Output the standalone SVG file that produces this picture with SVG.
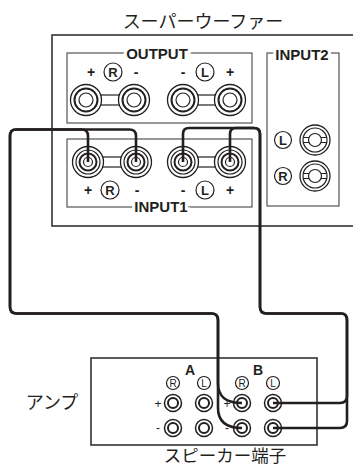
<svg xmlns="http://www.w3.org/2000/svg" width="353" height="466" viewBox="0 0 353 466">
<style>
.box{fill:none;stroke:#333;stroke-width:1.6}
.sub{fill:none;stroke:#444;stroke-width:1.1}
.lbl{font-family:"Liberation Sans",Arial,sans-serif;font-weight:bold;font-size:15px;fill:#231f20;text-anchor:middle;paint-order:stroke;stroke:#fff;stroke-width:6px}
.jp{font-family:"Noto Sans CJK JP",sans-serif;font-size:18px;fill:#231f20;text-anchor:middle}
.pm{font-family:"Liberation Sans",Arial,sans-serif;font-weight:bold;font-size:14px;fill:#231f20;text-anchor:middle}
.pms{font-family:"Liberation Sans",Arial,sans-serif;font-size:12px;fill:#231f20;text-anchor:middle}
.cl{font-family:"Liberation Sans",Arial,sans-serif;font-weight:bold;font-size:13px;fill:#231f20;text-anchor:middle}
.cls{font-family:"Liberation Sans",Arial,sans-serif;font-size:10px;fill:#231f20;text-anchor:middle}
.c{fill:#fff;stroke:#231f20;stroke-width:1.3}
.ct{fill:none;stroke:#231f20;stroke-width:2}
.t{fill:none;stroke:#231f20;stroke-width:1.2}
.wire{fill:none;stroke:#231f20;stroke-width:2.6;stroke-linejoin:round}
.bar{stroke:#231f20;stroke-width:1.2}
</style>
<defs>
<g id="ojack"><circle class="c" r="15.5"/><circle class="ct" r="11.5"/><circle class="t" r="7"/></g>
<g id="ijack"><circle class="c" r="15.5"/><circle class="t" r="12"/><circle class="ct" r="8.5"/><circle class="t" r="4.5"/></g>
<g id="i2jack"><circle class="c" r="15"/><circle class="t" r="12"/><circle class="t" r="6.5"/><path class="t" d="M-12,-2.5H-6M-12,2.5H-6M6,-2.5H12M6,2.5H12"/></g>
<g id="term"><circle fill="#fff" stroke="#231f20" stroke-width="1.5" r="8.5"/><circle fill="none" stroke="#231f20" stroke-width="2" r="5"/></g>
</defs>
<rect width="353" height="466" fill="#fff"/>
<g id="subwoofer">
<text class="jp" x="203" y="28">スーパーウーファー</text>
<rect class="box" x="52" y="35" width="310" height="191"/>
</g>
<g id="output">
<rect class="sub" x="67" y="53" width="185" height="70"/>
<text class="lbl" x="157" y="59">OUTPUT</text>
<line class="bar" x1="100" y1="95" x2="121" y2="95"/><line class="bar" x1="100" y1="105" x2="121" y2="105"/>
<line class="bar" x1="197" y1="95" x2="217" y2="95"/><line class="bar" x1="197" y1="105" x2="217" y2="105"/>
<use href="#ojack" x="86" y="100"/><use href="#ojack" x="134" y="100"/>
<use href="#ojack" x="183" y="100"/><use href="#ojack" x="230" y="100"/>
<text class="pm" x="91" y="77">+</text><text class="pm" x="136" y="77">-</text>
<text class="pm" x="183" y="77">-</text><text class="pm" x="230" y="77">+</text>
<circle class="t" cx="113" cy="72" r="9"/><text class="cl" x="113" y="77">R</text>
<circle class="t" cx="205" cy="72" r="9"/><text class="cl" x="205" y="77">L</text>
</g>
<g id="input1">
<rect class="sub" x="67" y="139" width="185" height="68"/>
<text class="lbl" x="161" y="212">INPUT1</text>
<line class="bar" x1="102" y1="157" x2="122" y2="157"/><line class="bar" x1="102" y1="167" x2="122" y2="167"/>
<line class="bar" x1="197" y1="157" x2="217" y2="157"/><line class="bar" x1="197" y1="167" x2="217" y2="167"/>
<use href="#ijack" x="88" y="162"/><use href="#ijack" x="136" y="162"/>
<use href="#ijack" x="183" y="162"/><use href="#ijack" x="230" y="162"/>
<text class="pm" x="88" y="195">+</text><text class="pm" x="137" y="195">-</text>
<text class="pm" x="183" y="195">-</text><text class="pm" x="230" y="195">+</text>
<circle class="t" cx="110" cy="190" r="9"/><text class="cl" x="110" y="195">R</text>
<circle class="t" cx="205" cy="190" r="9"/><text class="cl" x="205" y="195">L</text>
</g>
<g id="input2">
<rect class="sub" x="267" y="53" width="72" height="153"/>
<text class="lbl" x="302" y="60">INPUT2</text>
<circle class="t" cx="283" cy="140" r="8.5"/><text class="cl" x="283" y="145">L</text>
<circle class="t" cx="283" cy="176" r="8.5"/><text class="cl" x="283" y="181">R</text>
<use href="#i2jack" x="315" y="140"/><use href="#i2jack" x="315" y="176"/>
</g>
<g id="amp">
<text class="jp" x="52" y="409">アンプ</text>
<rect class="box" x="91" y="358" width="226" height="87"/>
<text class="jp" x="225" y="462" style="font-size:17.5px">スピーカー端子</text>
<text class="pm" x="190" y="375">A</text><text class="pm" x="258" y="375">B</text>
<circle class="t" cx="173" cy="383" r="6.5"/><text class="cls" x="173" y="386.5">R</text>
<circle class="t" cx="204" cy="383" r="6.5"/><text class="cls" x="204" y="386.5">L</text>
<circle class="t" cx="242" cy="383" r="6.5"/><text class="cls" x="242" y="386.5">R</text>
<circle class="t" cx="273" cy="383" r="6.5"/><text class="cls" x="273" y="386.5">L</text>
<text class="pms" x="158" y="407.5">+</text><text class="pms" x="158" y="432">-</text>
<text class="pms" x="227" y="407.5">+</text><text class="pms" x="227" y="432">-</text>
<use href="#term" x="173" y="403"/><use href="#term" x="204" y="403"/>
<use href="#term" x="242" y="403"/><use href="#term" x="273" y="403"/>
<use href="#term" x="173" y="428"/><use href="#term" x="204" y="428"/>
<use href="#term" x="242" y="428"/><use href="#term" x="273" y="428"/>
</g>
<g id="connectors">
<path class="wire" d="M88,162V136Q88,129.5 81.5,129.5H16Q10,129.5 10,136V307Q10,313.5 16.5,313.5H211.5Q218,313.5 218,320V383C218,397 226,403 242,403"/>
<path class="wire" d="M136,162V136Q136,129.5 129.5,129.5H16Q10,129.5 10,136V307Q10,313.5 16.5,313.5H211.5Q218,313.5 218,320V408C218,421 226,428 242,428"/>
<path class="wire" d="M183,162V134Q183,128 189,128H254Q260,128 260,134V307Q260,313.5 266.5,313.5H341Q347,313.5 347,320V396Q347,403 340,403H273"/>
<path class="wire" d="M230,162V134Q230,128 236,128H254Q260,128 260,134V307Q260,313.5 266.5,313.5H341Q347,313.5 347,320V421Q347,428 340,428H273"/>
</g>
</svg>
